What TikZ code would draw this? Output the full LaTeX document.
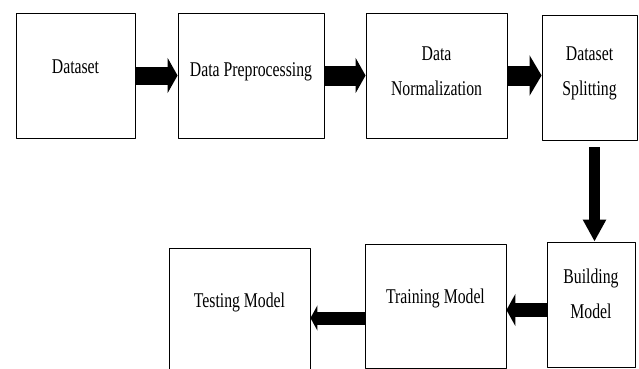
\documentclass[tikz,border=0pt]{standalone}
\usepackage{fontspec}
\setmainfont{Liberation Serif}[FakeStretch=0.75]
\usetikzlibrary{arrows.meta}
\tikzset{
  stage/.style={draw,line width=.9pt,inner sep=0pt,minimum height=125pt,text height=13pt,align=center,font=\fontsize{21}{35}\selectfont},
  blockarrow/.style n args={3}{line width=#1,-{Triangle[length=#2,width=#3]}}
}
\begin{document}
\begin{tikzpicture}[x=1pt,y=-1pt,line join=round]
\useasboundingbox (0,0) rectangle (639,368);
\node[stage,minimum width=119pt,text depth=18pt] (dataset) at (75.5,75.5) {Dataset};
\node[stage,minimum width=146pt,text depth=12pt] (prep) at (251,75.5) {Data Preprocessing};
\node[stage,minimum width=141pt,text height=39pt,text depth=0pt] (norm) at (436.5,75.5) {Data\\Normalization};
\node[stage,minimum width=95pt,text height=35pt,text depth=0pt] (split) at (589.5,77.5) {Dataset\\Splitting};
\node[stage,minimum width=88pt,text height=27pt,text depth=0pt] (build) at (591,304.5) {Building\\Model};
\node[stage,minimum width=141pt,minimum height=124pt,text depth=19pt] (train) at (435.5,306) {Training Model};
\node[stage,minimum width=141pt,text depth=20pt] (test) at (239.5,310.5) {Testing Model};
\draw[blockarrow={18pt}{10pt}{35pt}] (dataset) -- (prep);
\draw[blockarrow={20pt}{10pt}{35pt}] (prep) -- (norm);
\draw[blockarrow={20pt}{12pt}{40pt}] (norm.east) -- (norm.east -| split.west);
\draw[blockarrow={11pt}{22pt}{22pt},shorten <=7pt] ([xshift=5pt]split.south) -- ([xshift=5pt]split.south |- build.north);
\draw[blockarrow={14pt}{9pt}{32pt}] ([yshift=-5.5pt]build.west) -- ([yshift=-5.5pt]build.west -| train.east);
\draw[blockarrow={13pt}{7pt}{25pt}] ([yshift=-12pt]train.west) -- ([yshift=-12pt]train.west -| test.east);
\end{tikzpicture}
\end{document}
